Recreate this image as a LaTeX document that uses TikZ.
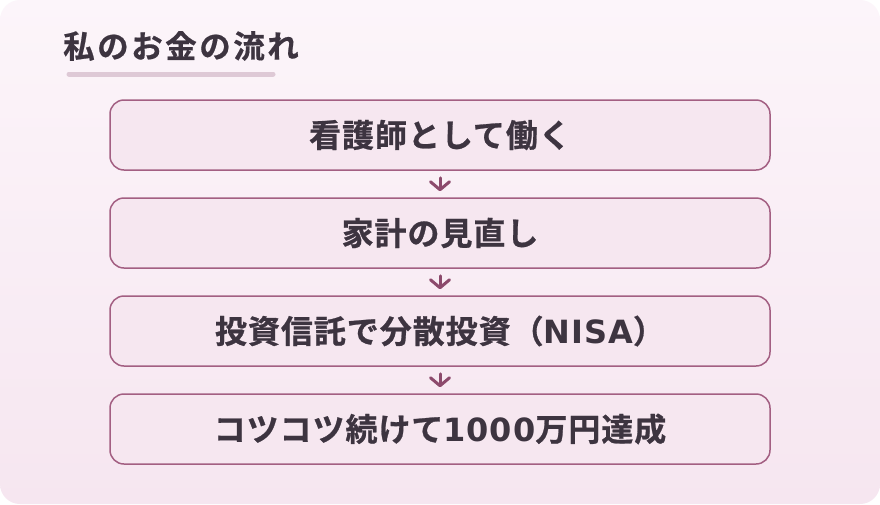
\documentclass[tikz,border=0pt]{standalone}
\usepackage{fontspec}
\newfontfamily\jpt[LetterSpace=8,FakeBold=0.6]{Noto Sans CJK JP Bold}
\newfontfamily\jpbs[LetterSpace=3,FakeBold=0.8]{Noto Sans CJK JP Bold}
\newfontfamily\latf[LetterSpace=3]{DejaVu Sans Bold}
\usetikzlibrary{arrows.meta}
\definecolor{bgtop}{HTML}{FCF5FA}
\definecolor{bgbot}{HTML}{F6E6F0}
\definecolor{boxfill}{HTML}{F6E7F0}
\definecolor{boxline}{HTML}{A35F82}
\definecolor{arrowc}{HTML}{8C4A6C}
\definecolor{txt}{HTML}{3D3440}
\definecolor{bar}{HTML}{DEC9D6}
\begin{document}
\begin{tikzpicture}[x=1pt,y=-1pt,
  stepbox/.style={draw=boxline,line width=1.5pt,fill=boxfill,rounded corners=14pt,
    minimum width=660pt,minimum height=70pt,inner sep=0pt,text=txt,
    font=\jpbs\fontsize{32pt}{36pt}\selectfont},
  flow/.style={draw=arrowc,line width=3pt,line cap=round,-{Straight Barb[length=8pt,width=19pt,round]}}]
\useasboundingbox (0,0) rectangle (880,504);
\fill[white] (0,0) rectangle (880,504);
\shade[top color=bgtop,bottom color=bgbot,rounded corners=20pt] (0,0) rectangle (880,504);
\node[anchor=west,text=txt,font=\jpt\fontsize{31.5pt}{35pt}\selectfont,inner sep=0pt] (title) at (63,46) {私のお金の流れ};
\draw[bar,line width=5pt,line cap=round] (69,74) -- (273,74);
\node[stepbox] (s1) at (440,135) {看護師として働く};
\node[stepbox] (s2) at (440,233) {家計の見直し};
\node[stepbox] (s3) at (440,331) {投資信託で分散投資（{\latf NISA}）};
\node[stepbox] (s4) at (440,429) {コツコツ続けて{\latf 1000}万円達成};
\draw[flow] ([yshift=-7pt]s1.south) -- ([yshift=6pt]s2.north);
\draw[flow] ([yshift=-7pt]s2.south) -- ([yshift=6pt]s3.north);
\draw[flow] ([yshift=-7pt]s3.south) -- ([yshift=6pt]s4.north);
\end{tikzpicture}
\end{document}
